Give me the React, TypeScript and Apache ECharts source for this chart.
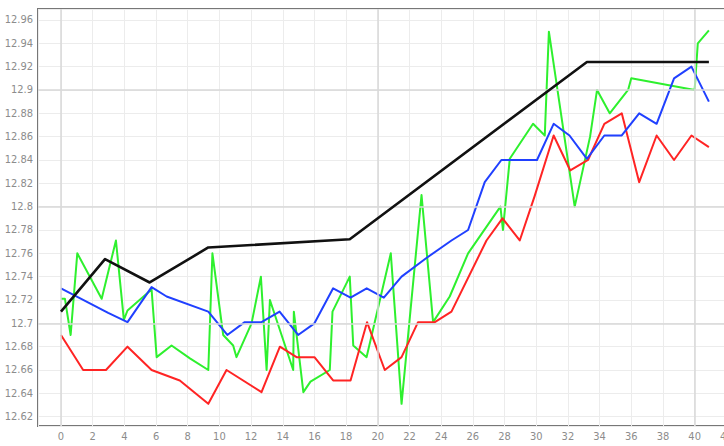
import React, { useEffect, useRef } from "react";
import * as echarts from "echarts";

const greenData: [number, number][] = [
  [0, 12.721], [0.25, 12.721], [0.61, 12.69], [1.03, 12.76], [2.57, 12.721], [3.47, 12.771],
  [3.97, 12.703], [4.2, 12.711], [5.72, 12.729], [6.04, 12.671], [6.98, 12.681], [8.14, 12.67],
  [9.3, 12.66], [9.56, 12.76], [10.24, 12.69], [10.87, 12.681], [11.08, 12.671], [12.03, 12.7],
  [12.62, 12.74], [12.98, 12.66], [13.19, 12.72], [14.66, 12.66], [14.7, 12.71], [15.3, 12.641],
  [15.75, 12.65], [16.97, 12.66], [17.14, 12.71], [18.23, 12.74], [18.45, 12.681], [19.29, 12.671],
  [20.82, 12.76], [21.5, 12.631], [22.76, 12.81], [23.49, 12.701], [24.54, 12.723], [25.7, 12.76],
  [27.74, 12.8], [27.9, 12.78], [28.33, 12.841], [29.8, 12.871], [30.54, 12.861], [30.8, 12.95],
  [32.43, 12.8], [33.4, 12.86], [33.84, 12.9], [34.64, 12.88], [35.8, 12.9], [36.0, 12.91],
  [40.0, 12.9], [40.2, 12.94], [40.9, 12.951],
];

const redData: [number, number][] = [
  [0, 12.69], [1.4, 12.66], [2.84, 12.66], [4.2, 12.68], [5.72, 12.66], [7.5, 12.651],
  [9.3, 12.631], [10.45, 12.66], [12.66, 12.641], [13.82, 12.68], [14.87, 12.671], [16.0, 12.671],
  [17.18, 12.651], [18.28, 12.651], [19.32, 12.701], [20.44, 12.66], [21.5, 12.671], [22.54, 12.701],
  [23.6, 12.701], [24.65, 12.71], [26.86, 12.771], [27.87, 12.79], [28.96, 12.771], [29.9, 12.809],
  [31.1, 12.861], [32.15, 12.831], [33.27, 12.84], [34.3, 12.871], [35.4, 12.88], [36.5, 12.821],
  [37.6, 12.861], [38.7, 12.84], [39.8, 12.861], [40.9, 12.851],
];

const blueData: [number, number][] = [
  [0, 12.73], [2.98, 12.709], [4.2, 12.701], [5.72, 12.731], [6.67, 12.723], [9.3, 12.71],
  [10.5, 12.69], [11.6, 12.701], [12.66, 12.701], [13.8, 12.71], [14.97, 12.69], [16.0, 12.7],
  [17.18, 12.73], [18.28, 12.722], [19.3, 12.73], [20.38, 12.722], [21.5, 12.74], [23.07, 12.756],
  [24.65, 12.771], [25.7, 12.78], [26.75, 12.821], [27.8, 12.84], [30.05, 12.84], [31.1, 12.871],
  [32.1, 12.861], [33.2, 12.841], [34.3, 12.861], [35.4, 12.861], [36.5, 12.88], [37.6, 12.871],
  [38.7, 12.91], [39.8, 12.92], [40.9, 12.89],
];

const blackData: [number, number][] = [
  [0, 12.71], [2.78, 12.755], [5.6, 12.735], [9.3, 12.765], [18.23, 12.772], [33.2, 12.924],
  [40.9, 12.924],
];

const majorYLines = [12.7, 12.8, 12.9];
const majorXLines = [0, 20, 40];

const X_MIN = -1.45;
const X_MAX = 44;
const Y_MIN = 12.612;
const Y_MAX = 12.9694;

const labelFont = {
  color: "#8c8c8c",
  fontSize: 11,
  fontFamily: "'Liberation Sans Narrow', 'DejaVu Sans Condensed', 'Liberation Sans', sans-serif",
};

const GRID_LEFT = 38;
const PX_PER_X = 15.85;
const CHART_WIDTH = Math.round(GRID_LEFT + (X_MAX - X_MIN) * PX_PER_X);

export default function App() {
  const ref = useRef<HTMLDivElement>(null);
  useEffect(() => {
    if (!ref.current) return;
    const chart = echarts.init(ref.current, undefined, { renderer: "svg" });
    const lineSeries = (name: string, data: [number, number][], color: string, width: number, z: number) => ({
      name,
      type: "line",
      data,
      showSymbol: false,
      symbol: "none",
      z,
      lineStyle: { color, width, join: "round" },
      itemStyle: { color },
    });
    chart.setOption({
      animation: false,
      backgroundColor: "#ffffff",
      grid: {
        left: GRID_LEFT,
        top: 9,
        right: 0,
        bottom: 20,
        show: true,
        borderColor: "#777777",
        borderWidth: 2,
        backgroundColor: "transparent",
      },
      xAxis: {
        type: "value",
        min: X_MIN,
        max: X_MAX,
        splitNumber: 23,
        axisLine: { show: false },
        axisTick: { show: false },
        axisLabel: { ...labelFont, margin: 5, showMinLabel: false, showMaxLabel: false },
        splitLine: { show: true, lineStyle: { color: "#ececec", width: 1 } },
      },
      yAxis: {
        type: "value",
        min: Y_MIN,
        max: Y_MAX,
        splitNumber: 18,
        axisLine: { show: false },
        axisTick: { show: false },
        axisLabel: { ...labelFont, margin: 5, showMinLabel: false, showMaxLabel: false },
        splitLine: { show: true, lineStyle: { color: "#ececec", width: 1 } },
      },
      series: [
        {
          name: "grid-major",
          type: "line",
          data: [],
          z: 1,
          markLine: {
            silent: true,
            symbol: "none",
            label: { show: false },
            lineStyle: { color: "#d9d9d9", width: 1.5, type: "solid" },
            data: [
              ...majorYLines.map((v) => ({ yAxis: v })),
              ...majorXLines.map((v) => ({ xAxis: v })),
            ],
          },
        },
        lineSeries("green", greenData, "#2ef02e", 2, 2),
        lineSeries("red", redData, "#ff2424", 2, 3),
        lineSeries("blue", blueData, "#2040ff", 2, 4),
        lineSeries("black", blackData, "#111111", 2.6, 5),
      ],
    });
    return () => chart.dispose();
  }, []);
  return (
    <div
      style={{ position: "absolute", left: 0, top: 0, width: 724, height: 446, background: "#fff", overflow: "hidden" }}
    >
      <div ref={ref} style={{ width: CHART_WIDTH, height: 446 }} />
    </div>
  );
}
